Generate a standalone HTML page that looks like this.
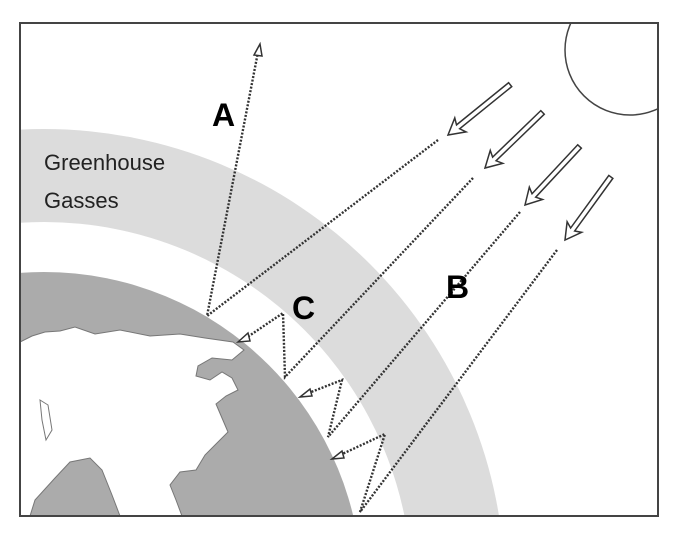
<!DOCTYPE html>
<html><head><style>
html,body{margin:0;padding:0;background:#fff;width:682px;height:535px;overflow:hidden;position:relative;}
svg{position:absolute;left:0;top:0;}
text{font-family:"Liberation Sans",sans-serif;}
</style></head><body>
<svg width="682" height="535" viewBox="0 0 682 535" xmlns="http://www.w3.org/2000/svg">
<defs><clipPath id="c"><rect x="20" y="23" width="638" height="493"/></clipPath></defs>
<rect width="682" height="535" fill="#fff"/>
<g clip-path="url(#c)">
  <circle cx="44" cy="590" r="461" fill="#dcdcdc"/>
  <circle cx="44" cy="590" r="368" fill="#fff"/>
  <circle cx="44" cy="590" r="318" fill="#ababab"/>
  <path d="M20,342 L32,336 L45,332 L60,331 L75,327 L95,334 L120,330 L150,336 L180,334 L205,338 L233,342 L244,350 L232,360 L212,358 L198,366 L196,376 L210,380 L222,372 L232,378 L238,390 L226,396 L216,404 L222,418 L228,432 L215,445 L205,455 L196,470 L180,472 L170,485 L176,500 L182,516 L120,516 L112,495 L102,470 L90,458 L70,462 L55,478 L35,500 L30,516 L20,516 Z" fill="#fff" stroke="#777" stroke-width="1"/>
  <path d="M40,400 L48,405 L52,430 L46,440 L42,420 Z" fill="#fff" stroke="#777" stroke-width="1"/>
  <circle cx="630" cy="50" r="65" fill="#fff" stroke="#444" stroke-width="1.5"/>
</g>
<rect x="20" y="23" width="638" height="493" fill="none" stroke="#444" stroke-width="2"/>
<g fill="none" stroke="#333" stroke-width="2.4" stroke-dasharray="2 1.6">
  <polyline points="438,140 207,316 258,52"/>
  <polyline points="473,178 285,377 283,313 246,338"/>
  <polyline points="520,212 328,437 342,380 306,394"/>
  <polyline points="557,250 360,512 385,434 338,456"/>
</g>
<g fill="#fff" stroke="#333" stroke-width="1.5">
  <polygon points="260,44 254,55 262,56"/>
  <polygon points="238,342 248,333 250,341"/>
  <polygon points="300,397 310,389 312,396"/>
  <polygon points="332,459 342,451 344,458"/>
</g>
<g fill="#fff" stroke="#333" stroke-width="1.5">
  <g transform="translate(448,135) rotate(-39)"><path d="M0,0 L16,-9 L13,-2.5 L80,-2.5 L80,2.5 L13,2.5 L16,9 Z"/></g>
  <g transform="translate(485,168) rotate(-44)"><path d="M0,0 L16,-9 L13,-2.5 L80,-2.5 L80,2.5 L13,2.5 L16,9 Z"/></g>
  <g transform="translate(525,205) rotate(-47)"><path d="M0,0 L16,-9 L13,-2.5 L80,-2.5 L80,2.5 L13,2.5 L16,9 Z"/></g>
  <g transform="translate(565,240) rotate(-54)"><path d="M0,0 L16,-9 L13,-2.5 L78,-2.5 L78,2.5 L13,2.5 L16,9 Z"/></g>
</g>
<text x="212" y="126" font-size="32" font-weight="bold" fill="#000">A</text>
<text x="292" y="319" font-size="32" font-weight="bold" fill="#000">C</text>
<text x="446" y="298" font-size="32" font-weight="bold" fill="#000">B</text>
<text x="44" y="170" font-size="22" fill="#222">Greenhouse</text>
<text x="44" y="208" font-size="22" fill="#222">Gasses</text>
</svg>
</body></html>
